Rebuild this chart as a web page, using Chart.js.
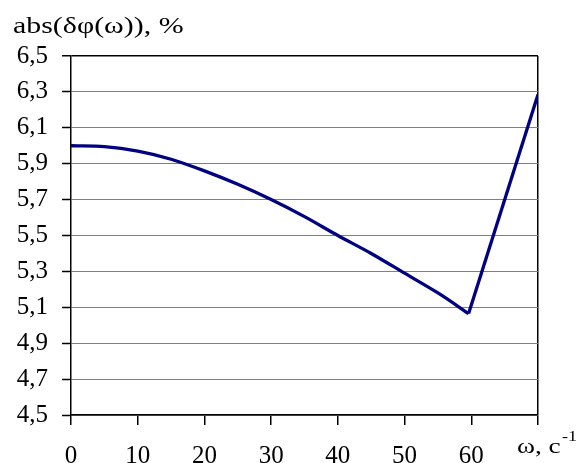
<!DOCTYPE html>
<html><head><meta charset="utf-8">
<script src="https://cdn.jsdelivr.net/npm/chart.js@4/dist/chart.umd.min.js"></script>
<style>html,body{margin:0;padding:0;background:#fff;}#wrap{width:579px;height:463px;position:relative;}</style>
</head><body><div id="wrap"><canvas id="c" width="579" height="463"></canvas></div>
<script>
const omegaCurve = [0, 5, 10, 15, 20, 25, 30, 35, 40, 45, 50, 55, 59.6];
const phaseErrCurve = [6.0, 5.995, 5.97, 5.925, 5.86, 5.785, 5.70, 5.605, 5.50, 5.40, 5.29, 5.18, 5.065];
const omegaRise = [59.6, 70];
const phaseErrRise = [5.065, 6.285];
const xTicks = [0, 10, 20, 30, 40, 50, 60, 70];
const yTicks = [4.5, 4.7, 4.9, 5.1, 5.3, 5.5, 5.7, 5.9, 6.1, 6.3, 6.5];
const yTitle = 'abs(δφ(ω)), %';
const xTitle = 'ω, c';
const xTitleSup = '-1';

const FONT = '"Liberation Serif", "Times New Roman", serif';
const toXY = (xs, ys) => xs.map((x, i) => ({x: x, y: ys[i]}));

const textPlugin = {
  id: 'texts',
  afterDraw(chart) {
    const ctx = chart.ctx;
    const SX = 1.3;
    ctx.save();
    ctx.fillStyle = '#000';
    ctx.textBaseline = 'alphabetic';
    ctx.textAlign = 'left';
    ctx.save();
    ctx.translate(13, 33);
    ctx.scale(SX, 1);
    ctx.font = '23px ' + FONT;
    ctx.fillText(yTitle, 0, 0);
    ctx.restore();
    ctx.save();
    ctx.translate(517, 453);
    ctx.scale(SX, 1);
    ctx.font = '21px ' + FONT;
    ctx.fillText(xTitle, 0, 0);
    const w = ctx.measureText(xTitle).width;
    ctx.font = '14px ' + FONT;
    ctx.fillText(xTitleSup, w + 1, -12);
    ctx.restore();
    ctx.restore();
  }
};

new Chart(document.getElementById('c'), {
  type: 'line',
  data: {
    datasets: [
      {data: toXY(omegaCurve, phaseErrCurve), borderColor: '#000080', borderWidth: 3.3, pointRadius: 0, tension: 0.3, fill: false},
      {data: toXY(omegaRise, phaseErrRise), borderColor: '#000080', borderWidth: 3.3, pointRadius: 0, tension: 0, fill: false}
    ]
  },
  options: {
    responsive: false,
    animation: false,
    layout: {padding: {top: 56, right: 41, left: 0, bottom: 0}},
    plugins: {legend: {display: false}, tooltip: {enabled: false}, title: {display: false}},
    scales: {
      x: {
        type: 'linear', min: 0, max: 70,
        afterBuildTicks: s => { s.ticks = xTicks.map(v => ({value: v})); },
        afterFit: s => { s.height = 48; },
        border: {color: '#000', width: 1.5},
        grid: {
          color: c => (c.tick && c.tick.value === 70) ? '#000' : 'rgba(0,0,0,0)',
          lineWidth: 1.5, tickColor: '#000', tickLength: 10, tickWidth: 1.5
        },
        ticks: {
          maxRotation: 0, autoSkip: false, padding: 16, color: '#000',
          font: {family: FONT, size: 25},
          callback: v => v === 70 ? '' : String(v)
        }
      },
      y: {
        type: 'linear', min: 4.5, max: 6.5,
        afterBuildTicks: s => { s.ticks = yTicks.map(v => ({value: v})); },
        afterFit: s => { s.width = 71; },
        border: {color: '#000', width: 1.5},
        grid: {
          color: c => (c.tick && Math.abs(c.tick.value - 6.5) < 1e-6) ? '#000' : '#808080',
          lineWidth: c => (c.tick && Math.abs(c.tick.value - 6.5) < 1e-6) ? 1.5 : 1,
          tickColor: '#000', tickLength: 9, tickWidth: 1.5
        },
        ticks: {
          padding: 14, color: '#000',
          font: {family: FONT, size: 25},
          callback: v => v.toFixed(1).replace('.', ',')
        }
      }
    }
  },
  plugins: [textPlugin]
});
</script></body></html>
